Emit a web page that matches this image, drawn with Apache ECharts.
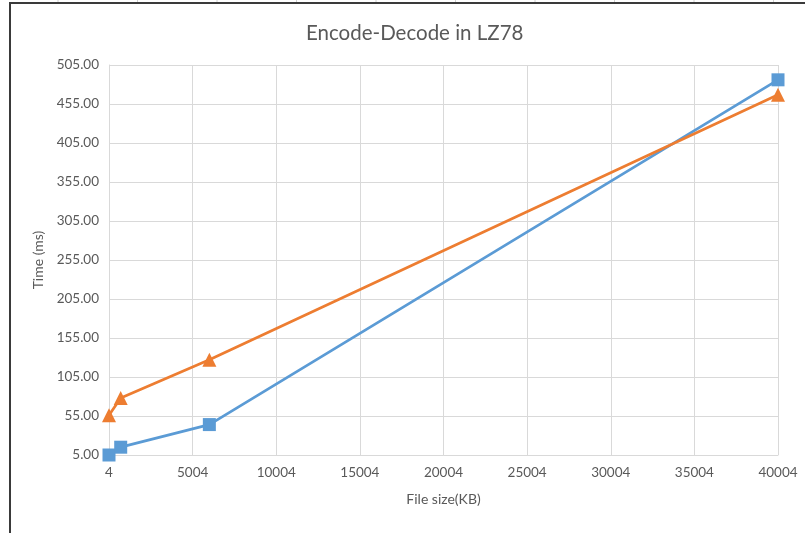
<!DOCTYPE html>
<html>
<head>
<meta charset="utf-8">
<script src="https://cdn.jsdelivr.net/npm/echarts@6/dist/echarts.min.js"></script>
<style>html,body{margin:0;padding:0;background:#fff;}#c{width:805px;height:533px;}</style>
</head>
<body>
<div id="c"></div>
<script>
var titleText = 'Encode-Decode in LZ78';
var xName = 'File size(KB)';
var yName = 'Time (ms)';
var fileSizes = [4, 704, 6004, 40004];
var seriesA = [5, 15, 44, 486];     // blue squares
var seriesB = [56, 78, 127, 467];   // orange triangles
var xMin = 4, xMax = 40004, xStep = 5000;
var yMin = 5, yMax = 505, yStep = 50;

function pairs(xs, ys) { return xs.map(function (x, i) { return [x, ys[i]]; }); }

var chart = echarts.init(document.getElementById('c'), null, {renderer: 'canvas'});
var font = 'Lato, "Open Sans", sans-serif';
var gridCols = [];
for (var gx = 58; gx < 805; gx += 79.5) gridCols.push(gx);
var graphics = [
  {type: 'rect', shape: {x: 10, y: 3, width: 800, height: 540}, style: {fill: '#fff', stroke: '#3a3a3a', lineWidth: 2}, z: -10}
];
gridCols.forEach(function (gx) {
  graphics.push({type: 'line', shape: {x1: gx, y1: 0, x2: gx, y2: 2}, style: {stroke: '#d0d0d0', lineWidth: 1}, z: -10});
});
chart.setOption({
  backgroundColor: '#fff',
  animation: false,
  graphic: graphics,
  title: {
    text: titleText, left: 301, top: 18,
    textStyle: {fontFamily: font, fontSize: 20.5, fontWeight: 'normal', color: '#595959'}
  },
  grid: {left: 109, right: 27, top: 65, bottom: 78},
  xAxis: {
    type: 'value', min: xMin, max: xMax, interval: xStep,
    name: xName, nameLocation: 'middle', nameGap: 37,
    nameTextStyle: {fontFamily: font, fontSize: 14, color: '#595959'},
    axisLine: {show: true, lineStyle: {color: '#d9d9d9'}},
    axisTick: {show: false},
    axisLabel: {fontFamily: font, fontSize: 13.5, color: '#595959', margin: 11,
      formatter: function (v) { return String(v); }},
    splitLine: {show: true, lineStyle: {color: '#d9d9d9'}}
  },
  yAxis: {
    type: 'value', min: yMin, max: yMax, interval: yStep,
    name: yName, nameLocation: 'middle', nameGap: 62, nameRotate: 90,
    nameTextStyle: {fontFamily: font, fontSize: 14, color: '#595959'},
    axisLine: {show: true, lineStyle: {color: '#d9d9d9'}},
    axisTick: {show: false},
    axisLabel: {fontFamily: font, fontSize: 13.5, color: '#595959', margin: 10,
      formatter: function (v) { return v.toFixed(2); }},
    splitLine: {show: true, lineStyle: {color: '#d9d9d9'}}
  },
  series: [
    {
      type: 'line', data: pairs(fileSizes, seriesA),
      symbol: 'rect', symbolSize: 13,
      lineStyle: {color: '#5b9bd5', width: 2.75},
      itemStyle: {color: '#5b9bd5'}
    },
    {
      type: 'line', data: pairs(fileSizes, seriesB),
      symbol: 'triangle', symbolSize: 14,
      lineStyle: {color: '#ed7d31', width: 2.75},
      itemStyle: {color: '#ed7d31'}
    }
  ]
});
</script>
</body>
</html>
